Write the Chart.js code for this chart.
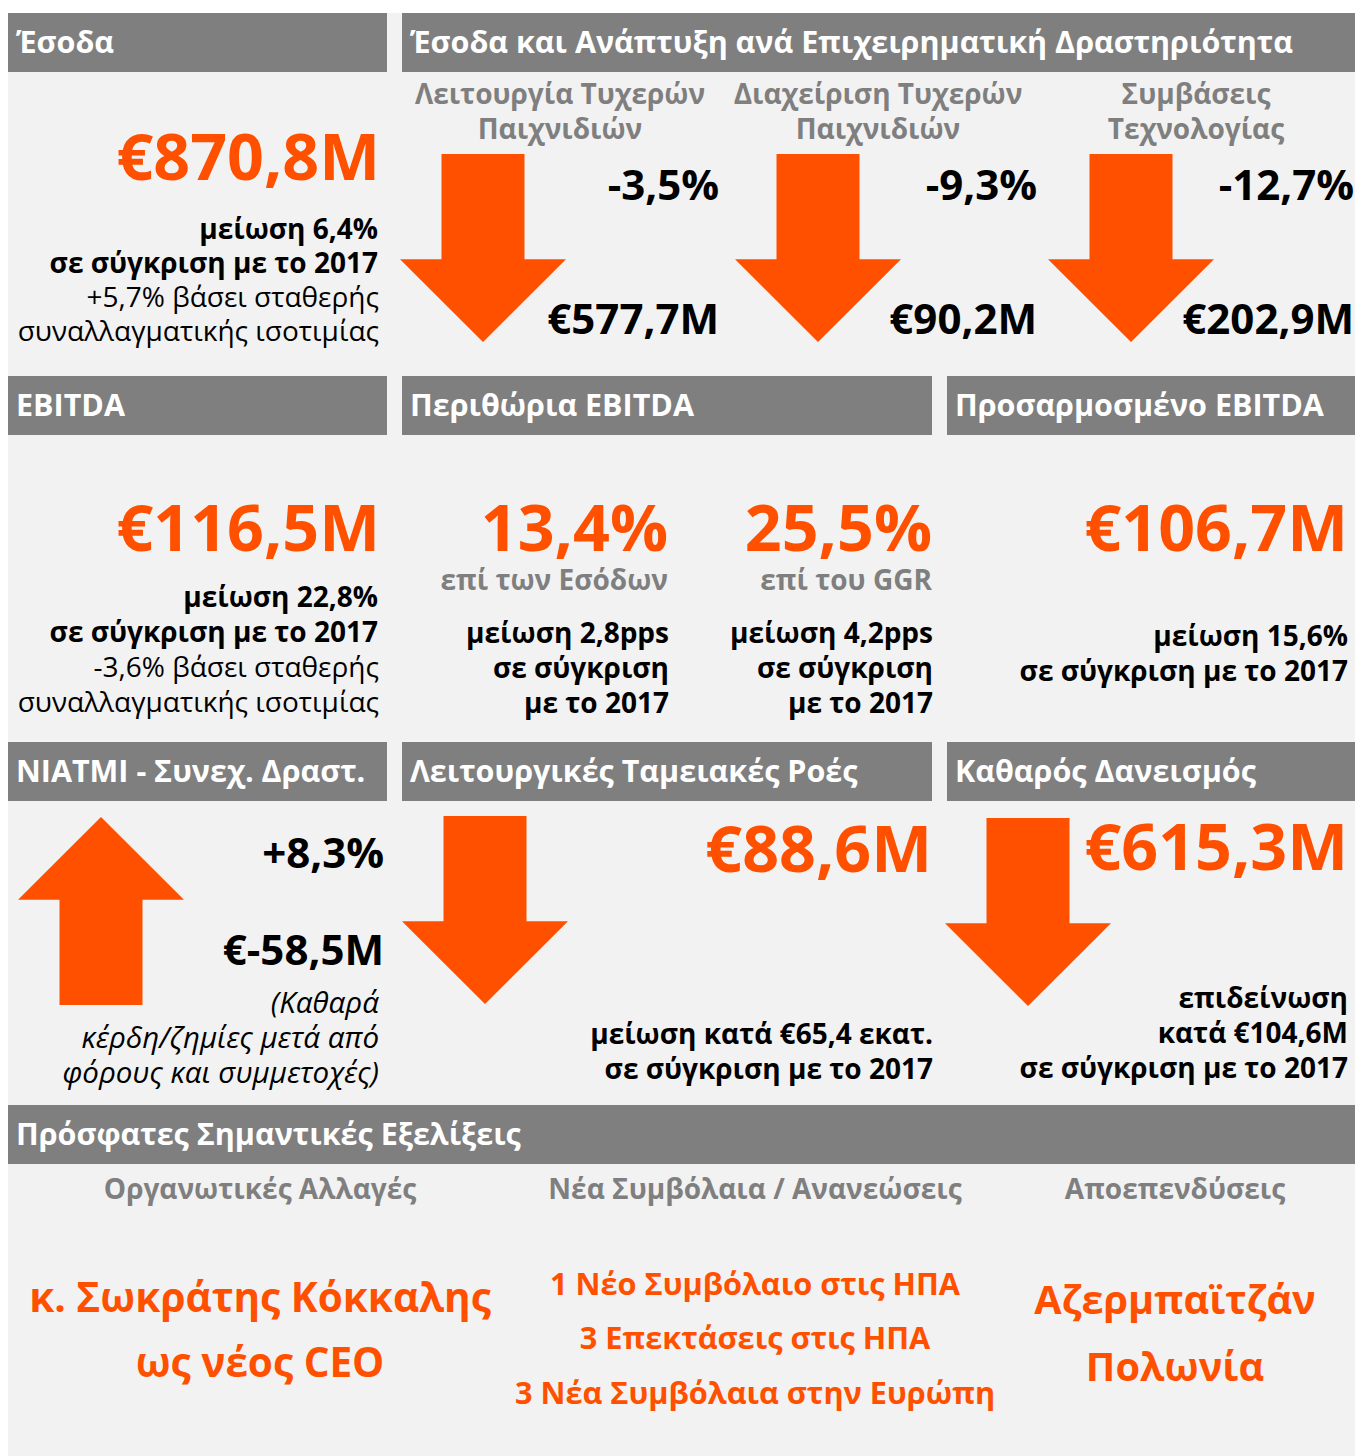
<!DOCTYPE html>
<html lang="el">
<head>
<meta charset="utf-8">
<title>Έσοδα και EBITDA 2018</title>
<script src="https://cdn.jsdelivr.net/npm/chart.js@4.4.1/dist/chart.umd.min.js"></script>
<style>
  html, body { margin: 0; padding: 0; }
  body {
    width: 1355px; height: 1456px; position: relative; overflow: hidden;
    background: #fff; font-family: "Open Sans", "Noto Sans", sans-serif;
  }
  #bg { position: absolute; left: 8px; top: 13px; right: 0; bottom: 0; background: #f2f2f2; }
  .hd {
    position: absolute; height: 59px; background: #7f7f7f; color: #fff;
    font-weight: 700; font-size: 30.5px; white-space: nowrap; overflow: hidden;
  }
  .hd span { position: absolute; left: 8px; }
  .ln { position: absolute; white-space: nowrap; }
  .arrow { position: absolute; }
</style>
</head>
<body>
<div id="bg"></div>
<script>
// --- values ---
const revenue = 870.8;
const revenueChange = -6.4;
const revenueChangeFx = 5.7;

const segmentNames = [
  ['Λειτουργία Τυχερών', 'Παιχνιδιών'],
  ['Διαχείριση Τυχερών', 'Παιχνιδιών'],
  ['Συμβάσεις', 'Τεχνολογίας']
];
const segmentChange = [-3.5, -9.3, -12.7];
const segmentRevenue = [577.7, 90.2, 202.9];

const ebitda = 116.5;
const ebitdaChange = -22.8;
const ebitdaChangeFx = -3.6;

const marginNames = ['επί των Εσόδων', 'επί του GGR'];
const margins = [13.4, 25.5];
const marginChangePps = [-2.8, -4.2];

const adjEbitda = 106.7;
const adjEbitdaChange = -15.6;

const niatmi = -58.5;
const niatmiChange = 8.3;

const opCashFlow = 88.6;
const opCashFlowChange = -65.4;

const netDebt = 615.3;
const netDebtChange = 104.6;   // more debt = deterioration

const devTitles = ['Οργανωτικές Αλλαγές', 'Νέα Συμβόλαια / Ανανεώσεις', 'Αποεπενδύσεις'];
const devItems = [
  ['κ. Σωκράτης Κόκκαλης', 'ως νέος CEO'],
  ['1 Νέο Συμβόλαιο στις ΗΠΑ', '3 Επεκτάσεις στις ΗΠΑ', '3 Νέα Συμβόλαια στην Ευρώπη'],
  ['Αζερμπαϊτζάν', 'Πολωνία']
];

const ORANGE = '#ff5000';
const GREY = '#7f7f7f';
const W = 1355;

// --- helpers ---
const num = v => Math.abs(v).toFixed(1).replace('.', ',');
const eur = v => '€' + (v < 0 ? '-' : '') + num(v) + 'M';
const pct = v => (v < 0 ? '-' : '+') + num(v) + '%';

function header(text, x0, x1, y) {
  const d = document.createElement('div');
  d.className = 'hd';
  Object.assign(d.style, { left: x0 + 'px', width: (x1 - x0) + 'px', top: y + 'px' });
  const s = document.createElement('span');
  s.textContent = text;
  s.style.lineHeight = '30.5px';
  s.style.top = (40 - 15.25 - 0.388 * 30.5) + 'px';
  d.appendChild(s);
  document.body.appendChild(d);
}

// one line of text placed by its baseline (Open Sans metrics)
function line(text, x, base, o) {
  const size = o.size || 28;
  const d = document.createElement('div');
  d.className = 'ln';
  d.textContent = text;
  d.style.fontSize = size + 'px';
  d.style.lineHeight = size + 'px';
  d.style.fontWeight = o.weight || 700;
  d.style.color = o.color || '#000';
  if (o.italic) d.style.fontStyle = 'italic';
  d.style.top = (base - size / 2 - 0.388 * size) + 'px';
  const align = o.align || 'right';
  if (align === 'right') d.style.right = (W - x) + 'px';
  else if (align === 'left') d.style.left = x + 'px';
  else { d.style.left = x + 'px'; d.style.transform = 'translateX(-50%)'; }
  document.body.appendChild(d);
}

function lines(arr, x, base0, step, o) {
  arr.forEach((t, i) => line(t, x, base0 + i * step, o));
}

// arrows: a one-bar chart; the bar's pixel geometry from the scales gives shaft + head
const arrowPlugin = {
  id: 'arrowShape',
  afterDatasetsDraw(chart) {
    const el = chart.getDatasetMeta(0).data[0];
    const { x, y, base, width } = el.getProps(['x', 'y', 'base', 'width'], true);
    const dir = Math.sign(y - base);
    const len = Math.abs(y - base);
    const neck = y - dir * len * 0.44;
    const h = width / 2;
    const ctx = chart.ctx;
    ctx.save();
    ctx.fillStyle = ORANGE;
    ctx.beginPath();
    ctx.moveTo(x - h, base);
    ctx.lineTo(x + h, base);
    ctx.lineTo(x + h, neck);
    ctx.lineTo(x + width, neck);
    ctx.lineTo(x, y);
    ctx.lineTo(x - width, neck);
    ctx.lineTo(x - h, neck);
    ctx.closePath();
    ctx.fill();
    ctx.restore();
  }
};

function arrow(left, top, direction) {
  const c = document.createElement('canvas');
  c.className = 'arrow';
  c.width = 166; c.height = 188;
  c.style.left = left + 'px';
  c.style.top = top + 'px';
  document.body.appendChild(c);
  new Chart(c, {
    type: 'bar',
    data: {
      labels: [''],
      datasets: [{
        data: [direction],
        backgroundColor: 'rgba(0,0,0,0)',
        categoryPercentage: 1,
        barPercentage: 0.5
      }]
    },
    options: {
      responsive: false,
      animation: false,
      events: [],
      layout: { padding: 0 },
      plugins: { legend: { display: false }, tooltip: { enabled: false } },
      scales: {
        x: { display: false },
        y: { display: false, min: direction < 0 ? -1 : 0, max: direction < 0 ? 0 : 1 }
      }
    },
    plugins: [arrowPlugin]
  });
}

// --- headers ---
header('Έσοδα', 8, 387, 13);
header('Έσοδα και Ανάπτυξη ανά Επιχειρηματική Δραστηριότητα', 402, 1355, 13);
header('EBITDA', 8, 387, 376);
header('Περιθώρια EBITDA', 402, 932, 376);
header('Προσαρμοσμένο EBITDA', 947, 1355, 376);
header('NIATMI - Συνεχ. Δραστ.', 8, 387, 742);
header('Λειτουργικές Ταμειακές Ροές', 402, 932, 742);
header('Καθαρός Δανεισμός', 947, 1355, 742);
header('Πρόσφατες Σημαντικές Εξελίξεις', 8, 1355, 1105);

const BIG = { size: 64.5, color: ORANGE };
const MID = { size: 42 };
const TXT = { size: 28 };
const REG = { size: 28, weight: 400 };
const LABEL = { size: 28, color: GREY };

// --- revenue ---
line(eur(revenue), 380, 180, BIG);
lines(['μείωση ' + num(revenueChange) + '%', 'σε σύγκριση με το 2017'], 378, 239, 34, TXT);
lines([pct(revenueChangeFx) + ' βάσει σταθερής', 'συναλλαγματικής ισοτιμίας'], 379, 307, 34, REG);

// --- segments ---
const segCenter = [560, 878, 1196];
const segRight = [719, 1037, 1354];
const segArrowLeft = [400, 735, 1048];
segmentNames.forEach((nm, i) => {
  lines(nm, segCenter[i], 104, 35, { ...LABEL, align: 'center' });
  line(pct(segmentChange[i]), segRight[i], 200, MID);
  line(eur(segmentRevenue[i]), segRight[i], 334, MID);
  arrow(segArrowLeft[i], 154, Math.sign(segmentChange[i]));
});

// --- EBITDA ---
line(eur(ebitda), 380, 551, BIG);
lines(['μείωση ' + num(ebitdaChange) + '%', 'σε σύγκριση με το 2017'], 378, 607, 35, TXT);
lines([pct(ebitdaChangeFx) + ' βάσει σταθερής', 'συναλλαγματικής ισοτιμίας'], 379, 677, 35, REG);

// --- margins ---
const marginRight = [668, 932];
margins.forEach((m, i) => {
  line(num(m) + '%', marginRight[i], 551, BIG);
  line(marginNames[i], marginRight[i], 590, LABEL);
  lines(['μείωση ' + num(marginChangePps[i]) + 'pps', 'σε σύγκριση', 'με το 2017'],
        marginRight[i] + 1, 643, 35, TXT);
});

// --- adjusted EBITDA ---
line(eur(adjEbitda), 1348, 551, BIG);
lines(['μείωση ' + num(adjEbitdaChange) + '%', 'σε σύγκριση με το 2017'], 1348, 646, 35, TXT);

// --- NIATMI ---
arrow(18, 817, Math.sign(niatmiChange));
line(pct(niatmiChange), 384, 868, MID);
line(eur(niatmi), 384, 965, MID);
lines(['(Καθαρά', 'κέρδη/ζημίες μετά από', 'φόρους και συμμετοχές)'], 379, 1013, 35,
      { size: 29.5, weight: 400, italic: true });

// --- operating cash flow ---
arrow(402, 816, Math.sign(opCashFlowChange));
line(eur(opCashFlow), 932, 872, BIG);
lines(['μείωση κατά €' + num(opCashFlowChange) + ' εκατ.', 'σε σύγκριση με το 2017'], 933, 1044, 35, TXT);

// --- net debt ---
arrow(945, 818, -Math.sign(netDebtChange));
line(eur(netDebt), 1348, 870, BIG);
lines(['επιδείνωση', 'κατά ' + eur(netDebtChange), 'σε σύγκριση με το 2017'], 1348, 1008, 35, TXT);

// --- recent developments ---
const devCenter = [260, 755, 1175];
devTitles.forEach((t, i) => line(t, devCenter[i], 1199, { ...LABEL, align: 'center' }));
lines(devItems[0], devCenter[0], 1313, 65, { size: 40.5, color: ORANGE, align: 'center' });
lines(devItems[1], devCenter[1], 1295, 54.5, { size: 30.7, color: ORANGE, align: 'center' });
lines(devItems[2], devCenter[2], 1315, 67, { size: 39.7, color: ORANGE, align: 'center' });
</script>
</body>
</html>
